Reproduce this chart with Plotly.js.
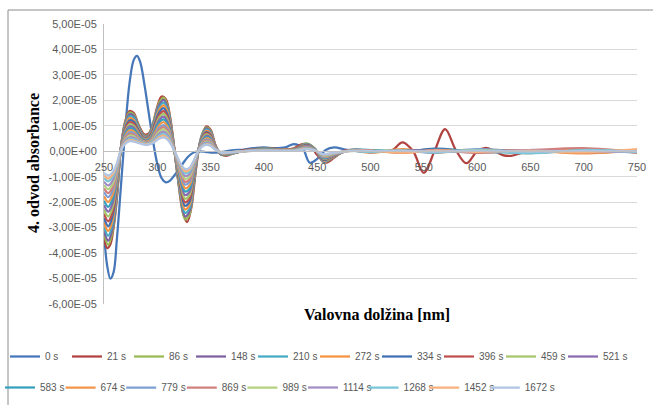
<!DOCTYPE html>
<html>
<head>
<meta charset="utf-8">
<script src="https://cdn.plot.ly/plotly-3.0.1.min.js"></script>
<style>
html,body{margin:0;padding:0;background:#fff;}
#chart{width:653px;height:405px;}
</style>
</head>
<body>
<div id="chart"></div>
<script>
// Series labels (time after start)
const seriesNames = ['0 s','21 s','86 s','148 s','210 s','272 s','334 s','396 s','459 s','521 s',
  '583 s','674 s','779 s','869 s','989 s','1114 s','1268 s','1452 s','1672 s'];

const seriesColors = ['#4677B8','#B04340','#98B954','#7D60A0','#46AAC5','#F69240','#3F70B2','#C0504D','#A5C66A','#8A6BB0',
  '#35A0BC','#F39548','#7DA0D4','#D1807E','#B3D27F','#A28DC4','#78C4D8','#F8B07C','#B0C5E3'];

// Wavelengths [nm] (fine grid, used by 0 s and 21 s)
const wl0 = [250,253,256,259,262,266,270,274,278,281,284,288,292,296,300,304,308,312,316,320,
  324,328,332,336,340,346,350,356,364,372,380,390,400,410,420,428,436,443,450,458,
  466,475,485,500,510,520,530,540,550,560,570,580,590,600,608,616,624,632,645,660,
  680,700,720,750];
// Wavelengths [nm] (grid used by the other series)
const wl = [250,254,258,262,266,270,274,278,282,286,290,294,298,302,306,310,314,318,322,326,
  330,334,338,342,346,350,354,360,370,385,400,415,430,440,448,456,465,480,500,530,
  560,600,650,700,750];

// 4th derivative of absorbance, values in units of 1E-05
const d0 = [-3.2,-4.5,-5.0,-4.75,-3.5,-1.3,0.9,2.7,3.6,3.75,3.5,2.6,1.5,0.4,-0.5,-1.05,-1.22,-1.15,-0.95,-0.72,
  -0.48,-0.25,-0.1,-0.02,0.0,-0.03,-0.05,-0.05,0.0,0.05,0.06,0.12,0.15,0.12,0.15,0.28,0.15,-0.45,-0.3,0.05,
  0.15,0.08,0.02,0.0,0.02,0.0,-0.02,0.01,0.02,0.0,-0.02,0.01,0.03,0.0,-0.02,0.01,0.02,0.0,-0.01,0.02,
  0.0,0.01,-0.01,0.0];
const d21 = [-3.4,-3.8,-3.65,-3.0,-1.9,0.2,1.2,1.58,1.5,1.2,0.9,0.66,0.7,1.1,1.75,2.15,2.05,1.35,0.1,-1.3,
  -2.4,-2.78,-2.2,-0.8,0.3,0.98,0.85,0.1,-0.18,-0.06,0.04,0.08,0.1,0.1,0.06,0.12,0.28,0.25,-0.15,-0.45,
  -0.25,0.02,0.06,0.02,0.0,0.03,0.35,0.0,-0.85,0.0,0.87,0.05,-0.47,0.0,0.13,0.02,-0.15,-0.18,-0.03,0.0,
  0.03,0.02,-0.02,0.0];
const d86 = [-3.26,-3.67,-3.17,-1.82,0.19,1.15,1.52,1.44,1.06,0.69,0.6,0.82,1.39,1.92,2.11,1.73,0.72,-0.62,-1.87,-2.67,
  -2.5,-1.44,-0.1,0.67,0.94,0.82,0.29,-0.14,-0.1,0.05,0.1,0.08,0.12,0.31,0.1,-0.43,-0.24,0.05,0.02,-0.03,
  0.04,-0.02,0.03,-0.04,0.02];
const d148 = [-3.13,-3.51,-3.04,-1.75,0.18,1.1,1.45,1.38,1.01,0.66,0.57,0.78,1.33,1.84,2.02,1.66,0.69,-0.6,-1.79,-2.56,
  -2.39,-1.38,-0.09,0.64,0.9,0.78,0.28,-0.14,-0.09,0.05,0.09,0.07,0.11,0.29,0.09,-0.41,-0.23,0.05,-0.03,0.05,
  -0.02,0.04,-0.05,0.03,-0.02];
const d210 = [-2.96,-3.32,-2.87,-1.65,0.17,1.04,1.37,1.31,0.96,0.63,0.54,0.74,1.26,1.74,1.91,1.57,0.65,-0.57,-1.7,-2.42,
  -2.26,-1.31,-0.09,0.61,0.85,0.74,0.26,-0.13,-0.09,0.04,0.09,0.07,0.1,0.28,0.09,-0.39,-0.22,0.04,0.04,-0.02,
  0.06,-0.03,-0.04,0.05,-0.03];
const d272 = [-2.79,-3.13,-2.71,-1.56,0.16,0.98,1.3,1.23,0.9,0.6,0.52,0.7,1.19,1.64,1.8,1.48,0.62,-0.53,-1.6,-2.28,
  -2.13,-1.23,-0.08,0.57,0.8,0.7,0.25,-0.12,-0.08,0.04,0.08,0.07,0.1,0.26,0.08,-0.37,-0.21,0.04,-0.06,0.08,
  -0.05,0.04,-0.07,0.09,-0.06];
const d334 = [-2.62,-2.94,-2.54,-1.46,0.15,0.92,1.22,1.16,0.85,0.57,0.5,0.66,1.12,1.54,1.69,1.39,0.58,-0.5,-1.5,-2.14,
  -2.0,-1.16,-0.08,0.54,0.75,0.65,0.23,-0.12,-0.08,0.04,0.08,0.06,0.09,0.25,0.08,-0.35,-0.19,0.04,0.03,-0.04,
  0.1,-0.02,0.03,-0.03,0.02];
const d396 = [-2.45,-2.75,-2.38,-1.37,0.14,0.86,1.14,1.08,0.79,0.54,0.48,0.62,1.04,1.44,1.58,1.3,0.54,-0.47,-1.4,-2.0,
  -1.87,-1.08,-0.07,0.5,0.71,0.61,0.22,-0.11,-0.07,0.04,0.07,0.06,0.09,0.23,0.07,-0.32,-0.18,0.04,-0.02,0.03,
  -0.04,0.05,0.02,-0.05,0.03];
const d459 = [-2.28,-2.56,-2.21,-1.27,0.13,0.8,1.06,1.0,0.74,0.51,0.46,0.58,0.97,1.34,1.47,1.21,0.5,-0.44,-1.31,-1.86,
  -1.74,-1.0,-0.07,0.47,0.66,0.57,0.2,-0.1,-0.07,0.03,0.07,0.05,0.08,0.21,0.07,-0.3,-0.17,0.03,0.04,0.02,
  -0.03,0.03,-0.02,0.04,-0.02];
const d521 = [-2.11,-2.37,-2.05,-1.18,0.12,0.74,0.98,0.93,0.68,0.48,0.43,0.54,0.9,1.24,1.36,1.12,0.47,-0.4,-1.21,-1.72,
  -1.61,-0.93,-0.06,0.43,0.61,0.53,0.19,-0.09,-0.06,0.03,0.06,0.05,0.07,0.2,0.06,-0.28,-0.16,0.03,-0.03,0.04,
  0.02,-0.04,0.05,-0.02,0.03];
const d583 = [-1.94,-2.18,-1.88,-1.08,0.11,0.68,0.9,0.86,0.63,0.45,0.4,0.5,0.83,1.14,1.25,1.03,0.43,-0.37,-1.11,-1.58,
  -1.48,-0.86,-0.06,0.4,0.56,0.48,0.17,-0.09,-0.06,0.03,0.06,0.05,0.07,0.18,0.06,-0.26,-0.14,0.03,0.05,-0.03,
  0.06,0.02,-0.05,0.04,0.0];
const d674 = [-1.77,-1.99,-1.72,-0.99,0.1,0.62,0.82,0.78,0.57,0.42,0.38,0.46,0.75,1.04,1.14,0.94,0.39,-0.34,-1.01,-1.45,
  -1.35,-0.78,-0.05,0.36,0.51,0.44,0.16,-0.08,-0.05,0.03,0.05,0.04,0.06,0.17,0.05,-0.23,-0.13,0.03,0.02,-0.06,
  0.04,-0.03,0.02,-0.08,0.05];
const d779 = [-1.6,-1.8,-1.55,-0.89,0.09,0.56,0.74,0.71,0.52,0.39,0.35,0.42,0.68,0.94,1.03,0.85,0.35,-0.31,-0.92,-1.31,
  -1.22,-0.71,-0.05,0.33,0.46,0.4,0.14,-0.07,-0.05,0.02,0.05,0.04,0.06,0.15,0.05,-0.21,-0.12,0.02,-0.02,0.03,
  -0.05,0.08,-0.03,0.02,-0.04];
const d869 = [-1.46,-1.64,-1.42,-0.82,0.09,0.52,0.68,0.65,0.47,0.37,0.34,0.4,0.62,0.86,0.95,0.77,0.32,-0.28,-0.84,-1.2,
  -1.12,-0.65,-0.04,0.3,0.42,0.37,0.13,-0.06,-0.04,0.02,0.04,0.03,0.05,0.14,0.04,-0.19,-0.11,0.02,0.03,-0.04,
  0.05,-0.06,0.04,0.12,-0.05];
const d989 = [-1.33,-1.49,-1.29,-0.74,0.08,0.47,0.62,0.59,0.45,0.36,0.32,0.38,0.57,0.78,0.86,0.7,0.29,-0.25,-0.76,-1.08,
  -1.01,-0.59,-0.04,0.27,0.38,0.33,0.12,-0.06,-0.04,0.02,0.04,0.03,0.05,0.12,0.04,-0.18,-0.1,0.02,-0.02,0.03,
  -0.02,0.04,-0.03,0.02,0.01];
const d1114 = [-1.19,-1.34,-1.16,-0.67,0.07,0.42,0.55,0.53,0.42,0.34,0.3,0.36,0.51,0.7,0.77,0.63,0.26,-0.23,-0.68,-0.97,
  -0.91,-0.53,-0.04,0.25,0.34,0.3,0.11,-0.05,-0.04,0.02,0.04,0.03,0.04,0.11,0.04,-0.16,-0.09,0.02,0.02,-0.03,
  0.03,-0.02,0.04,-0.03,0.02];
const d1268 = [-1.05,-1.18,-1.02,-0.59,0.06,0.37,0.49,0.47,0.39,0.32,0.28,0.33,0.46,0.62,0.68,0.56,0.23,-0.2,-0.6,-0.86,
  -0.81,-0.47,-0.03,0.22,0.3,0.26,0.09,-0.05,-0.03,0.02,0.03,0.02,0.04,0.1,0.03,-0.14,-0.08,0.02,-0.03,0.02,
  -0.04,0.03,-0.08,0.05,-0.03];
const d1452 = [-0.95,-1.07,-0.92,-0.53,0.06,0.34,0.44,0.42,0.36,0.3,0.27,0.31,0.42,0.56,0.62,0.5,0.21,-0.18,-0.55,-0.78,
  -0.73,-0.42,-0.03,0.2,0.27,0.24,0.08,-0.04,-0.03,0.01,0.03,0.02,0.03,0.09,0.03,-0.13,-0.07,0.01,0.02,-0.05,
  0.03,-0.02,0.03,-0.04,0.08];
const d1672 = [-0.85,-0.95,-0.83,-0.48,0.05,0.3,0.4,0.38,0.33,0.28,0.25,0.29,0.38,0.5,0.55,0.45,0.19,-0.16,-0.49,-0.7,
  -0.65,-0.38,-0.03,0.18,0.25,0.21,0.08,-0.04,-0.03,0.01,0.03,0.02,0.03,0.08,0.03,-0.11,-0.06,0.01,0.01,0.02,
  -0.01,0.02,-0.01,0.02,0.0];

const seriesY = [d0,d21,d86,d148,d210,d272,d334,d396,d459,d521,d583,d674,d779,d869,d989,d1114,d1268,d1452,d1672];
const seriesX = [wl0,wl0,wl,wl,wl,wl,wl,wl,wl,wl,wl,wl,wl,wl,wl,wl,wl,wl,wl];

// Axis tick labels (value axis in units of 1E-05)
const yTickVals = [-6,-5,-4,-3,-2,-1,0,1,2,3,4,5];
const yTickText = ['-6,00E-05','-5,00E-05','-4,00E-05','-3,00E-05','-2,00E-05','-1,00E-05','0,00E+00',
  '1,00E-05','2,00E-05','3,00E-05','4,00E-05','5,00E-05'];
const xTickVals = [250,300,350,400,450,500,550,600,650,700,750];

// each legend entry gets its own legend box so entries can be placed on the Excel-like grid
const legendId = i => (i === 0 ? 'legend' : 'legend' + (i + 1));

const traces = seriesNames.map((name, i) => ({
  type: 'scatter',
  mode: 'lines',
  name: name,
  x: seriesX[i],
  y: seriesY[i],
  line: {color: seriesColors[i], width: 2.25, shape: 'spline', smoothing: 1},
  legend: legendId(i),
  hoverinfo: 'skip'
}));

const L = 104, R = 637, T = 24, B = 304;
const pw = R - L, ph = B - T;
const px = v => (v - L) / pw;
const py = v => (B - v) / ph;

const legendFont = {family: 'Liberation Sans, Arial, sans-serif', size: 10, color: '#595959'};
const row1Step = 62, row2Step = 60.6;

const layout = {
  width: 653, height: 405,
  margin: {l: L, r: 653 - R, t: T, b: 405 - B, autoexpand: false},
  paper_bgcolor: '#ffffff', plot_bgcolor: '#ffffff',
  font: {family: 'Liberation Sans, Arial, sans-serif', size: 11, color: '#595959'},
  xaxis: {
    range: [250, 750], tickmode: 'array', tickvals: xTickVals,
    showgrid: false, zeroline: false, showline: true, linecolor: '#C0C0C0', linewidth: 1,
    anchor: 'free', position: 6 / 11, ticks: '', ticklabelstandoff: 6,
    tickfont: {size: 11, color: '#595959'}
  },
  yaxis: {
    range: [-6, 5], tickmode: 'array', tickvals: yTickVals, ticktext: yTickText,
    showgrid: true, gridcolor: '#D9D9D9', gridwidth: 1, zeroline: false,
    showline: true, linecolor: '#C0C0C0', linewidth: 1, ticks: '', ticklabelstandoff: 4,
    tickfont: {size: 11, color: '#595959'}
  },
  showlegend: true,
  annotations: [
    {text: '<b>Valovna dolžina [nm]</b>', xref: 'paper', yref: 'paper', x: px(377), y: py(314),
     xanchor: 'center', yanchor: 'middle', showarrow: false,
     font: {family: 'Liberation Serif, Times New Roman, serif', size: 16, color: '#000000'}},
    {text: '<b>4. odvod absorbance</b>', xref: 'paper', yref: 'paper', x: px(33), y: py(163),
     xanchor: 'center', yanchor: 'middle', textangle: -90, showarrow: false,
     font: {family: 'Liberation Serif, Times New Roman, serif', size: 16, color: '#000000'}}
  ],
  shapes: [
    {type: 'rect', xref: 'paper', yref: 'paper', x0: px(8), x1: px(660), y0: py(412), y1: py(10),
     line: {color: '#8C8C8C', width: 1}, fillcolor: 'rgba(0,0,0,0)', layer: 'below'}
  ]
};

seriesNames.forEach((name, i) => {
  const row2 = i >= 10;
  const xPix = row2 ? 0 + (i - 10) * row2Step : 5 + i * row1Step;
  const yPix = row2 ? 373 : 342;
  layout[legendId(i)] = {
    orientation: 'h', xanchor: 'left', yanchor: 'top',
    x: px(xPix), y: py(yPix), font: legendFont,
    bgcolor: 'rgba(0,0,0,0)', borderwidth: 0
  };
});

Plotly.newPlot('chart', traces, layout, {staticPlot: true, displayModeBar: false});
</script>
</body>
</html>
